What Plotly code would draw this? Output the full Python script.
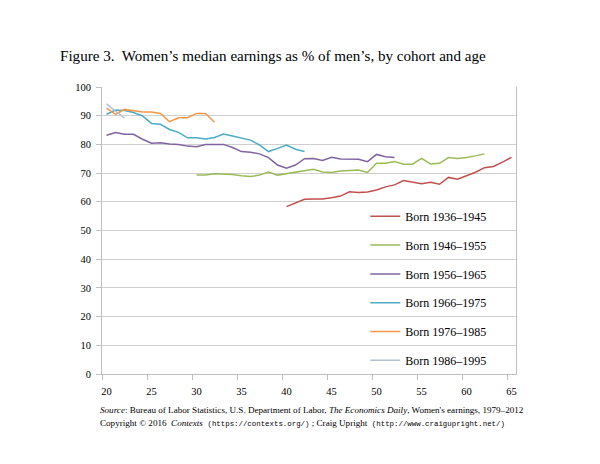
import plotly.graph_objects as go

# ---- data ----
ages_1936 = list(range(40, 66))
vals_1936 = [58.3, 59.7, 60.9, 61.0, 61.0, 61.4, 62.0, 63.5, 63.2, 63.4, 64.1, 65.2, 65.9,
             67.4, 66.8, 66.3, 66.8, 66.1, 68.5, 67.9, 69.1, 70.3, 71.9, 72.3, 73.8, 75.5]

ages_1946 = list(range(30, 63))
vals_1946 = [69.3, 69.3, 69.8, 69.7, 69.5, 69.1, 68.8, 69.3, 70.4, 69.3, 69.8, 70.3, 70.9,
             71.3, 70.4, 70.2, 70.7, 70.8, 71.1, 70.2, 73.4, 73.4, 74.0, 73.1, 73.1, 75.1,
             73.2, 73.4, 75.4, 75.1, 75.4, 76.0, 76.7]

ages_1956 = list(range(20, 53))
vals_1956 = [83.2, 84.1, 83.5, 83.5, 81.8, 80.4, 80.6, 80.1, 80.0, 79.4, 79.2, 80.0, 80.0,
             80.0, 78.9, 77.5, 77.3, 76.7, 75.4, 72.8, 71.7, 72.8, 75.0, 75.1, 74.4, 75.5,
             74.9, 74.9, 74.8, 74.0, 76.5, 75.7, 75.4]

ages_1966 = list(range(20, 43))
vals_1966 = [90.5, 92.0, 91.8, 91.1, 89.9, 87.3, 87.0, 85.2, 84.2, 82.3, 82.3, 81.9, 82.4,
             83.6, 82.9, 82.1, 81.5, 79.8, 77.5, 78.6, 79.8, 78.3, 77.5]

ages_1976 = list(range(20, 33))
vals_1976 = [92.6, 90.5, 92.2, 91.8, 91.3, 91.3, 90.8, 87.9, 89.3, 89.3, 90.8, 90.8, 87.7]

ages_1986 = list(range(20, 23))
vals_1986 = [94.1, 91.6, 89.1]

series_names = ["Born 1936–1945", "Born 1946–1955", "Born 1956–1965",
                "Born 1966–1975", "Born 1976–1985", "Born 1986–1995"]
series_colors = ["#C0504D", "#9BBB59", "#8064A2", "#4BACC6", "#F79646", "#B4BFCF"]
series_x = [ages_1936, ages_1946, ages_1956, ages_1966, ages_1976, ages_1986]
series_y = [vals_1936, vals_1946, vals_1956, vals_1966, vals_1976, vals_1986]

x_tick_vals = list(range(20, 66, 5))
y_tick_vals = list(range(0, 101, 10))

SERIF = "Liberation Serif, Times New Roman, serif"
MONO = "Liberation Mono, Courier New, monospace"

fig = go.Figure()
for i, (name, color, xs, ys) in enumerate(zip(series_names, series_colors, series_x, series_y)):
    fig.add_trace(go.Scatter(x=xs, y=ys, mode="lines", name=name,
                             line=dict(color=color, width=1.5), legendgroup=str(i)))

fig.update_layout(
    width=592, height=456,
    margin=dict(l=94, r=84, t=79, b=90, pad=0),
    paper_bgcolor="white", plot_bgcolor="white",
    font=dict(family=SERIF, size=11, color="#000000"),
    showlegend=True,
    legend=dict(x=0.636, y=0.60, xanchor="left", yanchor="top",
                bgcolor="rgba(0,0,0,0)", font=dict(family=SERIF, size=12, color="#000"),
                tracegroupgap=9.8, traceorder="grouped", itemwidth=30),
    xaxis=dict(range=[19.5, 65.5], tickvals=x_tick_vals, ticks="", showgrid=False,
               showline=True, linecolor="#BFBFBF", linewidth=1, zeroline=False,
               tickfont=dict(family=SERIF, size=10.5, color="#000"), ticklabelstandoff=7,
               minor=dict(tick0=19.5, dtick=5, ticks="outside", ticklen=5,
                          tickcolor="#BFBFBF", showgrid=False)),
    yaxis=dict(range=[0, 100], tickvals=y_tick_vals, ticks="outside", ticklen=5,
               tickcolor="#BFBFBF", showgrid=True, gridcolor="#CFCFCF", gridwidth=1,
               showline=True, linecolor="#BFBFBF", linewidth=1, mirror=True, zeroline=False,
               tickfont=dict(family=SERIF, size=10.5, color="#000"), ticklabelstandoff=3),
)

fig.add_annotation(xref="paper", yref="paper", x=-0.106, y=1.107, xanchor="left", yanchor="middle",
                   text="Figure 3.\u00a0 Women’s median earnings as % of men’s, by cohort and age",
                   showarrow=False, font=dict(family=SERIF, size=15.1, color="#000"))

fig.add_annotation(xref="paper", yref="paper", x=-0.010, y=-0.126, xanchor="left", yanchor="middle",
                   text="<i>Source</i>: Bureau of Labor Statistics, U.S. Department of Labor, "
                        "<i>The Economics Daily</i>, Women's earnings, 1979–2012",
                   showarrow=False, font=dict(family=SERIF, size=9.1, color="#000"))

fig.add_annotation(xref="paper", yref="paper", x=-0.010, y=-0.171, xanchor="left", yanchor="middle",
                   text="Copyright © 2016\u00a0 <i>Contexts</i>\u00a0 "
                        f"<span style=\"font-family:{MONO};font-size:7.4px\">(https://contexts.org/)</span>"
                        " ; Craig Upright\u00a0 "
                        f"<span style=\"font-family:{MONO};font-size:7.4px\">(http://www.craigupright.net/)</span>",
                   showarrow=False, font=dict(family=SERIF, size=9.1, color="#000"))

fig.write_html("out.html")
